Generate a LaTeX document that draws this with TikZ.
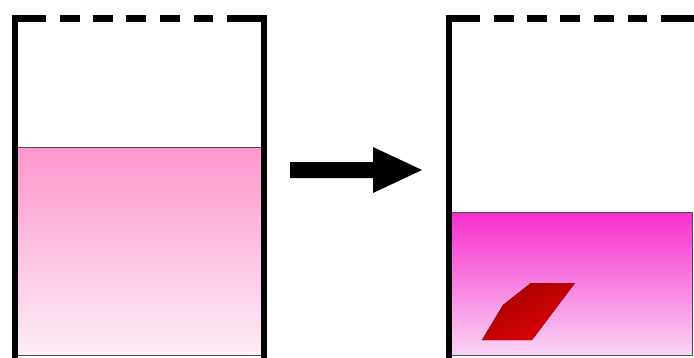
\documentclass[tikz,border=0pt]{standalone}
\usetikzlibrary{arrows.meta, positioning, calc}
\usepackage{xcolor}
\definecolor{pinktop}{RGB}{255,150,205}
\definecolor{pinkbot}{RGB}{252,238,247}
\definecolor{magtop}{RGB}{247,45,205}
\definecolor{magbot}{RGB}{250,212,245}
\definecolor{crysdark}{RGB}{165,0,0}
\definecolor{cryslight}{RGB}{225,5,5}

\begin{document}
\begin{tikzpicture}[
	x=1pt, y=-1pt,
	wall/.style={line width=6pt, black},
	rim/.style={line width=7pt, black, dash pattern={on 34pt off 14pt on 20pt off 13pt on 20pt off 13pt on 20pt off 14pt on 20pt off 14pt on 19pt off 14pt on 60pt}},
	oldliquid/.style={draw=black!70, line width=1pt, top color=pinktop, bottom color=pinkbot},
	newliquid/.style={draw=black!70, line width=1pt, top color=magtop, bottom color=magbot},
	crystal/.style={shading=axis, top color=crysdark, bottom color=cryslight, shading angle=30}
	]
	\useasboundingbox (0,0) rectangle (694,357);
	% before
	\fill[oldliquid] (15,147) rectangle (264,355);
	\draw[wall] (14.5,18) -- (14.5,360);
	\draw[wall] (263.5,18) -- (263.5,360);
	\draw[rim] (11.5,18.5) -- (266.5,18.5);
	% reaction arrow
	\fill[black] (290,162) -- (373,162) -- (373,147) -- (422,170) -- (373,193) -- (373,178) -- (290,178) -- cycle;
	% after
	\fill[newliquid] (449,212) rectangle (692,355);
	\draw[wall] (448.5,18) -- (448.5,360);
	\draw[rim] (445.5,18) -- (700,18);
	\fill[crystal] (482,340) -- (532,340) -- (575,283) -- (531,283) -- (503,305) -- cycle;
\end{tikzpicture}
\end{document}
